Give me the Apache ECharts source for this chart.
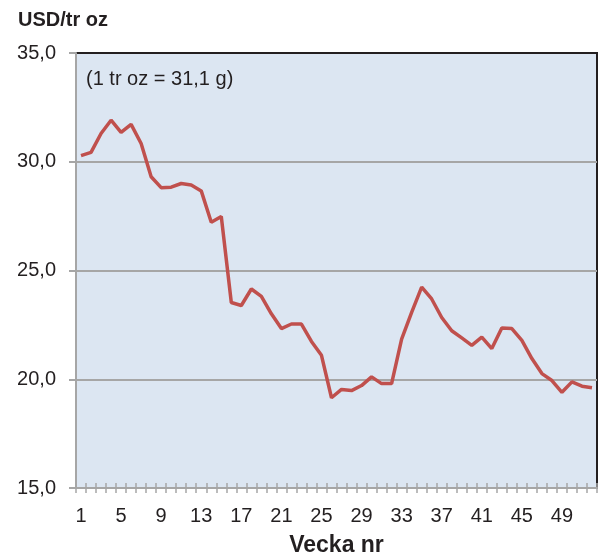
<!DOCTYPE html>
<html>
<head>
<meta charset="utf-8">
<script src="https://cdn.jsdelivr.net/npm/echarts@6/dist/echarts.min.js"></script>
<style>
  html, body { margin: 0; padding: 0; background: #fff; }
  #chart { width: 602px; height: 557px; }
</style>
</head>
<body>
<div id="chart"></div>
<script>
var weeks = [];
for (var w = 1; w <= 52; w++) weeks.push(String(w));

var price = [
  30.28, 30.43, 31.30, 31.91, 31.35, 31.72, 30.84, 29.31, 28.81, 28.83,
  29.00, 28.93, 28.66, 27.22, 27.48, 23.53, 23.39, 24.15, 23.81, 23.01,
  22.33, 22.54, 22.54, 21.74, 21.10, 19.15, 19.53, 19.48, 19.71, 20.11,
  19.80, 19.80, 21.85, 23.07, 24.24, 23.69, 22.84, 22.23, 21.90, 21.56,
  21.94, 21.41, 22.36, 22.33, 21.79, 20.95, 20.26, 19.94, 19.40, 19.88,
  19.68, 19.61
];

var yMin = 15, yMax = 35, yStep = 5;
var unitLabel = "USD/tr oz";
var noteLabel = "(1 tr oz = 31,1 g)";
var xName = "Vecka nr";

var font = "Liberation Sans, Arial, sans-serif";
var grey = "#a6a6a6";
var text = "#231f20";

var chart = echarts.init(document.getElementById("chart"));

chart.setOption({
  animation: false,
  backgroundColor: "#ffffff",
  textStyle: { fontFamily: font },
  grid: {
    left: 76, right: 5, top: 53, bottom: 69,
    outerBoundsMode: "none",
    show: true,
    backgroundColor: "#dce6f2",
    borderColor: text,
    borderWidth: 2
  },
  title: {
    text: unitLabel,
    left: 13, top: 5,
    textStyle: { fontFamily: font, fontSize: 20, fontWeight: "bold", color: text }
  },
  graphic: [{
    type: "text",
    left: 86, top: 69,
    style: { text: noteLabel, fontFamily: font, fontSize: 20, fill: text }
  }],
  xAxis: [{
    type: "category",
    data: weeks,
    boundaryGap: true,
    name: xName,
    nameLocation: "middle",
    nameGap: 46,
    nameTextStyle: { fontFamily: font, fontSize: 23, fontWeight: "bold", color: text },
    axisLine: { show: true, lineStyle: { color: grey, width: 2 } },
    axisTick: { show: true, interval: 0, length: 5, lineStyle: { color: grey, width: 1.5 } },
    axisLabel: { show: true, interval: 3, margin: 18, fontSize: 20, color: text, fontFamily: font },
    splitLine: { show: false }
  }, {
    // second copy of the category axis only to draw the inner half of the ticks
    type: "category",
    data: weeks,
    boundaryGap: true,
    position: "bottom",
    axisLine: { show: false },
    axisTick: { show: true, interval: 0, inside: true, length: 5, lineStyle: { color: grey, width: 1.5 } },
    axisLabel: { show: false },
    splitLine: { show: false }
  }],
  yAxis: {
    type: "value",
    min: yMin, max: yMax, interval: yStep,
    axisLine: { show: true, lineStyle: { color: grey, width: 2 } },
    axisTick: { show: true, length: 7, lineStyle: { color: grey, width: 2 } },
    axisLabel: {
      margin: 20, fontSize: 20, color: text, fontFamily: font,
      formatter: function (v) { return v.toFixed(1).replace(".", ","); }
    },
    splitLine: { show: true, showMaxLine: false, lineStyle: { color: grey, width: 2 } }
  },
  series: [{
    type: "line",
    xAxisIndex: 0,
    data: price,
    symbol: "none",
    lineStyle: { color: "#c0504d", width: 3.5 },
    z: 5
  }]
});
</script>
</body>
</html>
